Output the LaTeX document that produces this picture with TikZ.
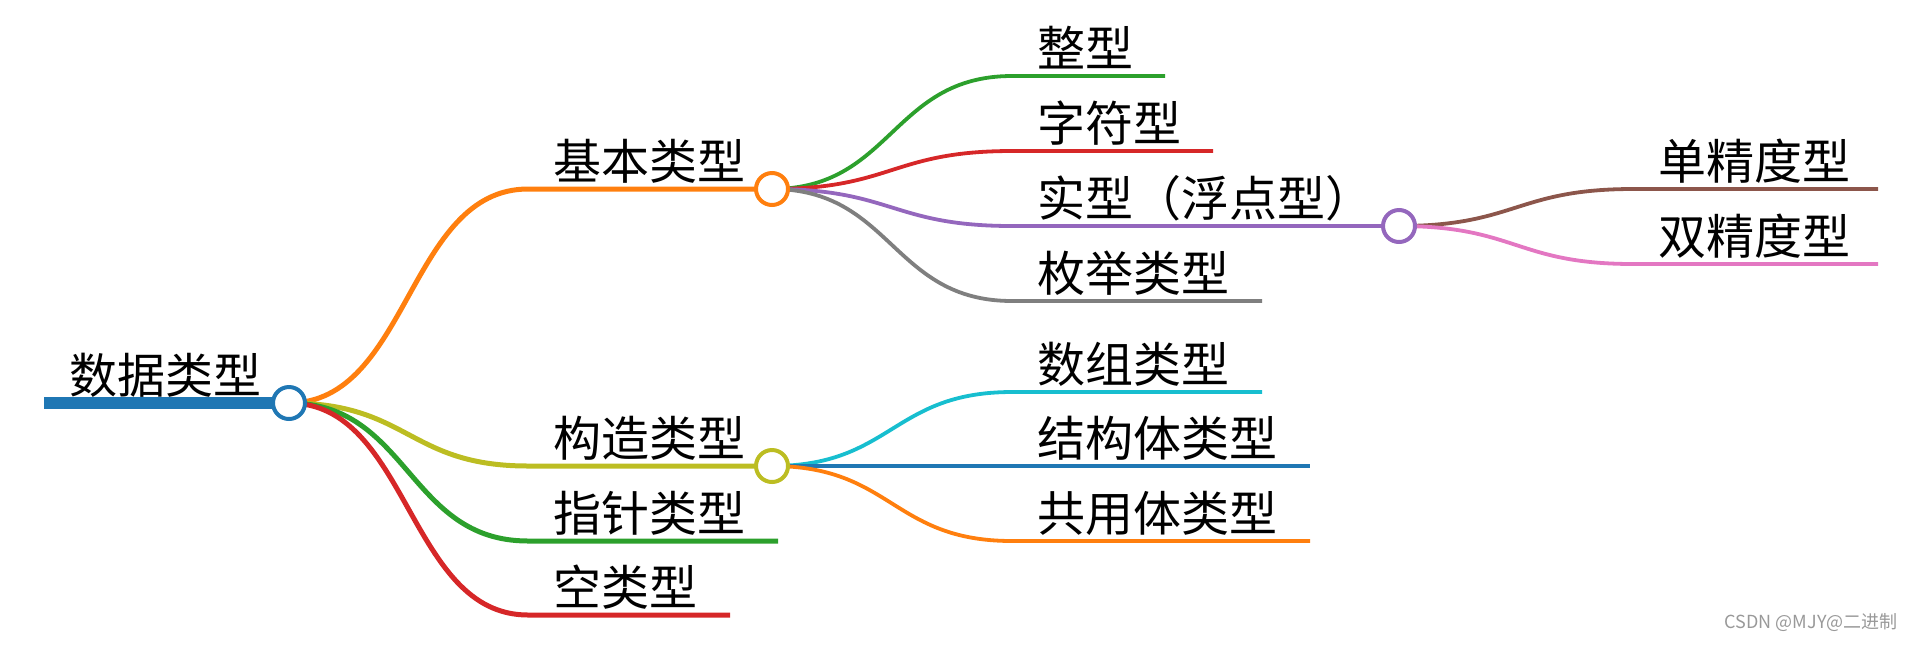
\documentclass[tikz,border=0pt]{standalone}
\usepackage{fontspec}
\setmainfont{Noto Sans CJK SC}
\usepackage{xcolor}
\usepackage{tikz}
\definecolor{mblue}{HTML}{1F77B4}
\definecolor{morange}{HTML}{FF7F0E}
\definecolor{mgreen}{HTML}{2CA02C}
\definecolor{mred}{HTML}{D62728}
\definecolor{mpurple}{HTML}{9467BD}
\definecolor{mbrown}{HTML}{8C564B}
\definecolor{mpink}{HTML}{E377C2}
\definecolor{mgray}{HTML}{7F7F7F}
\definecolor{molive}{HTML}{BCBD22}
\definecolor{mcyan}{HTML}{17BECF}

\begin{document}
\begin{tikzpicture}[x=0.5pt, y=-0.5pt,
    topic/.style={anchor=base west, inner sep=0pt, font=\fontsize{24}{24}\selectfont},
    knob/.style={circle, draw=#1, fill=white, line width=2pt, minimum size=16pt, inner sep=0pt},
    link/.style={line width=1.9pt}]
  \useasboundingbox (0,0) rectangle (1914,644);

  % hubs
  \coordinate (root) at (289,403);
  \coordinate (basic) at (772,189);
  \coordinate (cons) at (772,466);
  \coordinate (real) at (1399,226);

  % root
  \coordinate (r0) at (44,403);
  \draw[mblue, line width=6pt] (r0) -- (root);
  \node[topic] (t-root) at (69,393) {数据类型};

  % first level
  \foreach \nm/\y/\xe/\col/\txt in {basic/189/772/morange/基本类型, cons/466/772/molive/构造类型,
      ptr/541/778/mgreen/指针类型, void/615/730/mred/空类型} {
    \coordinate (j-\nm) at (528,\y);
    \coordinate (e-\nm) at (\xe,\y);
    \draw[\col, line width=2.5pt] (root) .. controls +(120,0) and +(-120,0) .. (j-\nm) -- (e-\nm);
    \node[topic] (t-\nm) at (553,\y-10) {\txt};
  }

  % second level
  \foreach \nm/\y/\xe/\col/\txt in {int/76/1165/mgreen/整型, char/151/1213/mred/字符型,
      float/226/1399/mpurple/实型（浮点型）, enum/301/1262/mgray/枚举类型} {
    \coordinate (j-\nm) at (1012,\y);
    \coordinate (e-\nm) at (\xe,\y);
    \draw[\col, link] (basic) .. controls +(120,0) and +(-120,0) .. (j-\nm) -- (e-\nm);
    \node[topic] (t-\nm) at (1037,\y-10) {\txt};
  }
  \foreach \nm/\y/\xe/\col/\txt in {array/392/1262/mcyan/数组类型, struct/466/1310/mblue/结构体类型,
      union/541/1310/morange/共用体类型} {
    \coordinate (j-\nm) at (1012,\y);
    \coordinate (e-\nm) at (\xe,\y);
    \draw[\col, link] (cons) .. controls +(120,0) and +(-120,0) .. (j-\nm) -- (e-\nm);
    \node[topic] (t-\nm) at (1037,\y-10) {\txt};
  }

  % third level
  \foreach \nm/\y/\col/\txt in {single/189/mbrown/单精度型, double/264/mpink/双精度型} {
    \coordinate (j-\nm) at (1633,\y);
    \coordinate (e-\nm) at (1878,\y);
    \draw[\col, link] (real) .. controls +(117,0) and +(-117,0) .. (j-\nm) -- (e-\nm);
    \node[topic] (t-\nm) at (1658,\y-10) {\txt};
  }

  % knobs on top
  \node[knob=mblue] (k-root) at (root) {};
  \node[knob=morange] (k-basic) at (basic) {};
  \node[knob=molive] (k-cons) at (cons) {};
  \node[knob=mpurple] (k-real) at (real) {};

  \node[anchor=base east, inner sep=0pt, text=black!40, font=\fontsize{9}{9}\selectfont]
    (mark) at (1898,628) {CSDN @MJY@二进制};
\end{tikzpicture}
\end{document}
